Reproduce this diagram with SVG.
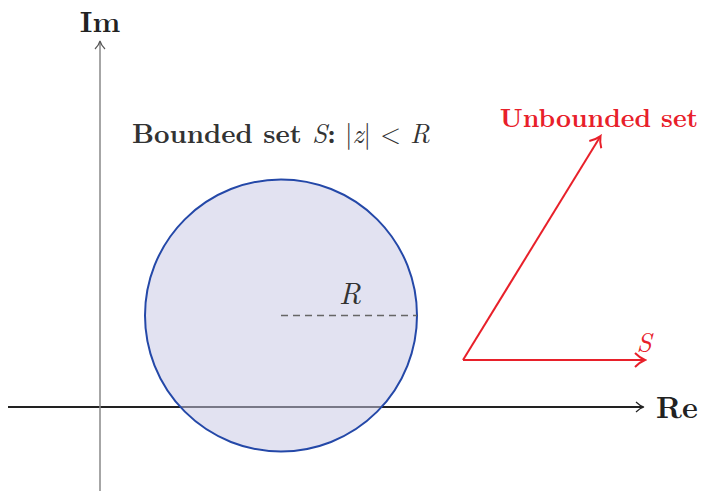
<svg xmlns="http://www.w3.org/2000/svg" width="701" height="492" viewBox="0 0 701 492">
<defs>
<style>
.serif{font-family:"Latin Modern Roman","CMU Serif","Liberation Serif","DejaVu Serif",serif;}
.bold{font-weight:bold;}
.it{font-style:italic;}
</style>
<marker id="ahK" markerWidth="12" markerHeight="12" refX="9" refY="6" orient="auto" markerUnits="userSpaceOnUse">
<path d="M2,1 Q6,5 10,6 Q6,7 2,11" fill="none" stroke="#222" stroke-width="1.2"/>
</marker>
<marker id="ahG" markerWidth="12" markerHeight="12" refX="9" refY="6" orient="auto" markerUnits="userSpaceOnUse">
<path d="M2,1 Q6,5 10,6 Q6,7 2,11" fill="none" stroke="#555" stroke-width="1.2"/>
</marker>
<marker id="ahR" markerWidth="14" markerHeight="16" refX="11" refY="8" orient="auto" markerUnits="userSpaceOnUse">
<path d="M2,1 Q7,6 12,8 Q7,10 2,15" fill="none" stroke="#e8202a" stroke-width="2"/>
</marker>
</defs>
<rect width="701" height="492" fill="#fff"/>
<g id="connectors">
<line id="re-axis" x1="8" y1="407" x2="643" y2="407" stroke="#222" stroke-width="2" marker-end="url(#ahK)"/>
<line id="im-axis" x1="100" y1="491" x2="100" y2="42" stroke="#888" stroke-width="1.5" marker-end="url(#ahG)"/>
</g>
<g id="bounded-set">
<circle cx="281" cy="315.5" r="136" fill="#c8c8e4" fill-opacity="0.52" stroke="#2448a8" stroke-width="2"/>
<line x1="281" y1="315.5" x2="417" y2="315.5" stroke="#666" stroke-width="1.3" stroke-dasharray="7,5"/>
<text x="350" y="304" class="serif it" font-size="30" fill="#333" text-anchor="middle">R</text>
</g>
<g id="unbounded-set">
<line x1="463" y1="360" x2="600" y2="137" stroke="#e8202a" stroke-width="2" marker-end="url(#ahR)"/>
<line x1="463" y1="360" x2="644" y2="360" stroke="#e8202a" stroke-width="2" marker-end="url(#ahR)"/>
<text x="644" y="352" class="serif it" font-size="27" fill="#e8202a" text-anchor="middle">S</text>
</g>
<g id="labels">
<text x="100" y="32" class="serif bold" font-size="29" fill="#222" text-anchor="middle">Im</text>
<text x="656" y="418" class="serif bold" font-size="30" fill="#222">Re</text>
<text x="132" y="143" class="serif" font-size="27" fill="#333"><tspan class="bold">Bounded set </tspan><tspan class="it">S</tspan><tspan class="bold">:</tspan> |<tspan class="it">z</tspan>| &lt; <tspan class="it">R</tspan></text>
<text x="599" y="127" class="serif bold" font-size="26" fill="#e8202a" text-anchor="middle">Unbounded set</text>
</g>
</svg>
